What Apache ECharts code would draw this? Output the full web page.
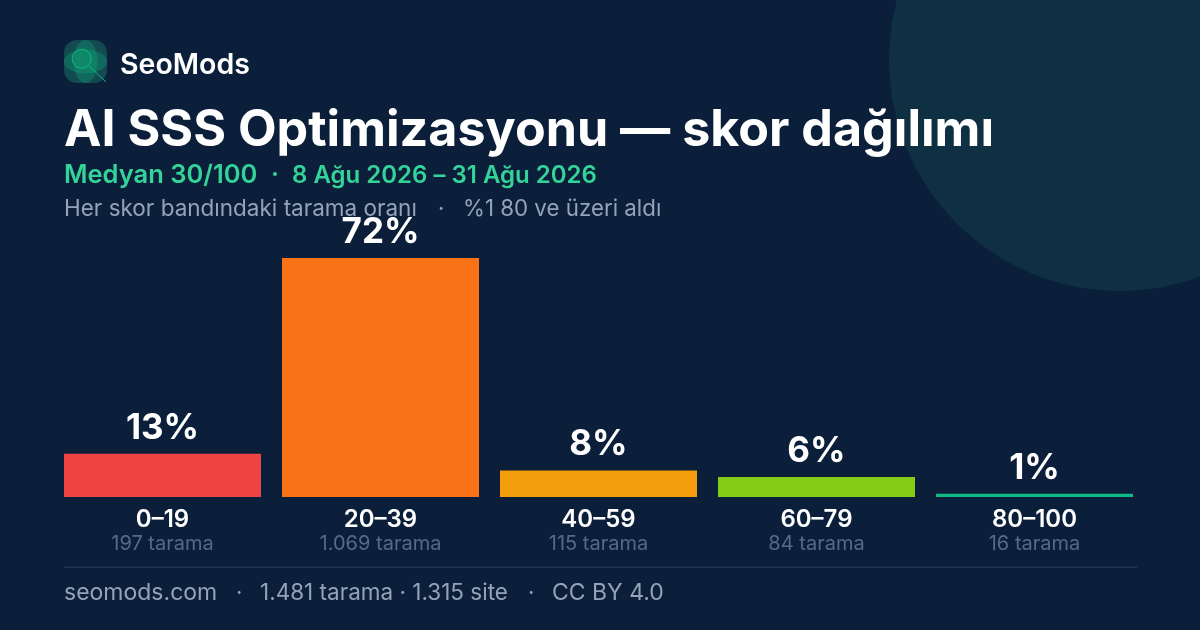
<!DOCTYPE html>
<html>
<head>
<meta charset="utf-8" />
<title>AI SSS Optimizasyonu — skor dağılımı</title>
<style>
	html, body { margin: 0; padding: 0; background: #0b1f3a; }
	#main { width: 1200px; height: 630px; }
</style>
</head>
<body>
<div id="main"></div>
<script src="https://cdn.jsdelivr.net/npm/echarts@6/dist/echarts.min.js"></script>
<script type="text/javascript">
var bands = ['0–19', '20–39', '40–59', '60–79', '80–100'];
var shares = [13, 72, 8, 6, 1];
var scanLabels = ['197 tarama', '1.069 tarama', '115 tarama', '84 tarama', '16 tarama'];
var barColors = ['#ef4444', '#f97316', '#f59e0b', '#84cc16', '#10b981'];

var FONT = 'Inter';
var myChart = echarts.init(document.getElementById('main'), null, { renderer: 'canvas' });

function barData() {
	var list = [];
	for (var i = 0; i < shares.length; i++) {
		list.push({ value: shares[i], itemStyle: { color: barColors[i] } });
	}
	return list;
}

// y is the text baseline, zrender places from the top of the line
function text(x, y, str, size, weight, color) {
	return {
		type: 'text', x: x, y: y - size * 0.85,
		style: {
			text: str, fill: color,
			font: weight + ' ' + size + 'px ' + FONT
		}
	};
}

var option = {
	backgroundColor: '#0b1f3a',
	animation: false,
	grid: { left: 53.5, top: 258, width: 1090, height: 239 },
	xAxis: {
		type: 'category',
		data: bands,
		axisLine: { show: false },
		axisTick: { show: false },
		axisLabel: {
			interval: 0,
			margin: 10,
			formatter: function (value, idx) {
				return '{band|' + value + '}\n{scan|' + scanLabels[idx] + '}';
			},
			rich: {
				band: { fontFamily: FONT, fontWeight: 600, fontSize: 24, lineHeight: 25, color: '#ffffff' },
				scan: { fontFamily: FONT, fontSize: 20, lineHeight: 24, color: '#566a88' }
			}
		}
	},
	yAxis: { type: 'value', min: 0, max: 72, show: false },
	series: [{
		type: 'bar',
		barWidth: 197,
		data: barData(),
		label: {
			show: true,
			position: 'top',
			distance: 8,
			formatter: '{c}%',
			fontFamily: FONT,
			fontWeight: 700,
			fontSize: 35,
			color: '#ffffff'
		}
	}],
	graphic: [
		{ type: 'circle', z: -1, shape: { cx: 1120, cy: 60, r: 231 }, style: { fill: '#0e3042' } },
		// logo
		{ type: 'rect', shape: { x: 64, y: 40, width: 43, height: 43, r: 13 }, style: { fill: '#124a50' } },
		{ type: 'ellipse', shape: { cx: 85.5, cy: 61.5, rx: 12, ry: 21.5 }, style: { fill: 'rgba(16,185,129,0.28)' } },
		{ type: 'ellipse', shape: { cx: 85.5, cy: 61.5, rx: 21.5, ry: 12 }, style: { fill: 'rgba(16,185,129,0.28)' } },
		{ type: 'circle', shape: { cx: 81.7, cy: 58.7, r: 9.5 }, style: { fill: 'rgba(16,185,129,0.15)', stroke: '#10b981', lineWidth: 1 } },
		{ type: 'line', shape: { x1: 88.5, y1: 65.5, x2: 106, y2: 82 }, style: { stroke: '#10b981', lineWidth: 1 } },
		text(120, 75, 'SeoMods', 28.5, 600, '#ffffff'),
		text(64, 149, 'AI SSS Optimizasyonu — skor dağılımı', 50.2, 700, '#ffffff'),
		text(64, 184, 'Medyan 30/100', 25.5, 600, '#34d399'),
		text(271, 184, '·', 25, 600, '#34d399'),
		text(292, 184, '8 Ağu 2026 – 31 Ağu 2026', 24, 600, '#34d399'),
		text(64, 217, 'Her skor bandındaki tarama oranı', 22.5, 400, '#94a3b8'),
		text(438, 217, '·', 22, 400, '#94a3b8'),
		text(463, 217, '%1 80 ve üzeri aldı', 22.3, 400, '#94a3b8'),
		{ type: 'rect', shape: { x: 64, y: 566.5, width: 1073, height: 1.5 }, style: { fill: '#1e3554' } },
		text(64, 601, 'seomods.com', 23, 400, '#94a3b8'),
		text(236, 601, '·', 22, 400, '#94a3b8'),
		text(260, 601, '1.481 tarama · 1.315 site', 22.5, 400, '#94a3b8'),
		text(528, 601, '·', 22, 400, '#94a3b8'),
		text(552, 601, 'CC BY 4.0', 23, 400, '#94a3b8')
	]
};

myChart.setOption(option);
</script>
</body>
</html>
